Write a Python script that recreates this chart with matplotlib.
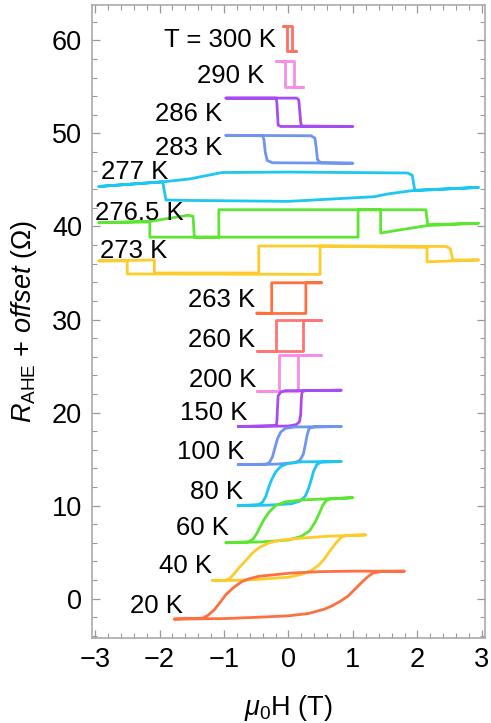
import matplotlib
matplotlib.use('Agg')
import matplotlib.pyplot as plt
import matplotlib.ticker as mticker

plt.rcParams.update({
    'font.family': 'Liberation Sans',
    'mathtext.fontset': 'custom',
    'mathtext.rm': 'Liberation Sans',
    'mathtext.it': 'Liberation Sans:italic',
    'mathtext.bf': 'Liberation Sans:bold',
})

# Hysteresis loops, field (T) and R_AHE + offset (Ohm), sweep up then sweep down
H_300 = [-0.08, -0.02, 0.05, 0.05, 0.11, 0.11, -0.02, -0.02, -0.08]
R_300 = [61.6, 61.6, 61.6, 58.9, 58.9, 58.9, 58.9, 61.6, 61.6]

H_290 = [-0.2, 0.08, 0.08, 0.23, 0.23, -0.05, -0.05, -0.2]
R_290 = [57.8, 57.8, 55.0, 55.0, 55.0, 55.0, 57.8, 57.8]

H_286 = [-0.97, 0.13, 0.16, 0.19, 0.2, 1.0, 1.0, -0.12, -0.16, -0.18, -0.19, -0.97]
R_286 = [53.8, 53.8, 53.6, 51.2, 50.8, 50.75, 50.75, 50.75, 50.9, 53.3, 53.8, 53.8]

H_283 = [-0.97, 0.35, 0.41, 0.43, 0.45, 0.5, 1.0, 1.0, -0.25, -0.33, -0.36, -0.38, -0.4, -0.97]
R_283 = [49.8, 49.75, 49.5, 48.5, 47.2, 46.85, 46.8, 46.8, 46.85, 47.1, 48.0, 49.3, 49.75, 49.8]

H_277 = [-2.94, -1.95, -1.54, -1.03, 0.0, 1.85, 1.92, 1.96, 2.95,
         2.95, 1.97, 1.54, 1.33, 0.0, -1.54, -1.9, -1.95, -2.94]
R_277 = [44.3, 44.8, 45.1, 45.8, 45.85, 45.75, 45.5, 43.85, 44.2,
         44.2, 43.9, 43.5, 43.2, 42.7, 42.8, 42.85, 44.8, 44.3]

H_2765 = [-2.94, -2.15, -1.56, -1.48, -1.46, -1.08, -1.08, 1.0, 2.13, 2.16, 2.95,
          2.95, 2.15, 1.43, 1.43, 1.08, 1.08, -2.15, -2.15, -2.94]
R_2765 = [40.4, 40.55, 41.2, 41.1, 38.85, 38.85, 41.8, 41.8, 41.8, 40.2, 40.35,
          40.35, 40.1, 39.3, 41.8, 41.8, 38.85, 38.85, 40.5, 40.4]

H_273 = [-2.94, -2.08, -2.08, -0.46, -0.46, 1.0, 2.45, 2.51, 2.55, 2.95,
         2.95, 2.15, 2.15, 1.0, 0.49, 0.49, -2.5, -2.5, -2.94]
R_273 = [36.3, 36.4, 35.0, 35.0, 37.9, 37.9, 37.85, 37.6, 36.4, 36.4,
         36.4, 36.2, 37.75, 37.85, 37.9, 34.85, 34.9, 36.3, 36.3]

H_263 = [-0.49, 0.27, 0.27, 0.51, 0.51, -0.26, -0.26, -0.49]
R_263 = [30.65, 30.65, 33.95, 33.95, 33.95, 33.95, 30.65, 30.7]

H_260 = [-0.49, 0.22, 0.22, 0.51, 0.51, -0.2, -0.2, -0.49]
R_260 = [26.6, 26.6, 29.9, 29.9, 29.9, 29.9, 26.6, 26.6]

H_200 = [-0.49, 0.15, 0.15, 0.51, 0.51, -0.15, -0.15, -0.49]
R_200 = [22.35, 22.35, 26.2, 26.2, 26.2, 26.2, 22.35, 22.35]

H_150 = [-0.78, 0.0, 0.12, 0.17, 0.19, 0.2, 0.21, 0.25, 0.82,
         0.82, -0.05, -0.12, -0.16, -0.17, -0.18, -0.19, -0.78]
R_150 = [18.5, 18.55, 18.7, 19.0, 19.8, 21.5, 22.2, 22.35, 22.4,
         22.4, 22.35, 22.2, 21.8, 20.5, 19.0, 18.6, 18.5]

H_100 = [-0.78, -0.2, 0.1, 0.18, 0.23, 0.26, 0.29, 0.32, 0.4, 0.82,
         0.82, 0.1, -0.05, -0.12, -0.17, -0.21, -0.25, -0.3, -0.35, -0.78]
R_100 = [14.4, 14.45, 14.6, 14.9, 15.5, 16.5, 17.6, 18.3, 18.45, 18.5,
         18.5, 18.45, 18.3, 17.9, 17.2, 16.2, 15.2, 14.6, 14.45, 14.4]

H_80 = [-0.78, -0.3, 0.05, 0.18, 0.26, 0.31, 0.35, 0.39, 0.44, 0.5, 0.82,
        0.82, 0.2, 0.0, -0.12, -0.2, -0.26, -0.31, -0.35, -0.4, -0.46, -0.78]
R_80 = [10.0, 10.05, 10.2, 10.5, 11.0, 11.8, 12.7, 13.7, 14.4, 14.65, 14.75,
        14.75, 14.7, 14.55, 14.2, 13.6, 12.8, 11.9, 11.0, 10.4, 10.1, 10.0]

H_60 = [-0.97, -0.4, 0.0, 0.2, 0.33, 0.42, 0.48, 0.53, 0.58, 0.64, 1.0,
        1.0, 0.2, -0.05, -0.2, -0.3, -0.38, -0.44, -0.5, -0.55, -0.62, -0.97]
R_60 = [6.0, 6.1, 6.3, 6.7, 7.3, 8.3, 9.2, 10.0, 10.5, 10.7, 10.85,
        10.85, 10.6, 10.4, 10.0, 9.3, 8.5, 7.7, 6.9, 6.4, 6.1, 6.0]

H_40 = [-1.18, -0.9, -0.5, 0.0, 0.2, 0.35, 0.47, 0.56, 0.65, 0.74, 0.82, 0.9, 1.2,
        1.2, 0.6, 0.2, -0.1, -0.3, -0.45, -0.56, -0.66, -0.77, -0.85, -0.92, -1.0, -1.18]
R_40 = [1.95, 1.95, 2.05, 2.3, 2.6, 3.0, 3.6, 4.3, 5.2, 6.0, 6.6, 6.8, 6.85,
        6.85, 6.7, 6.5, 6.3, 6.0, 5.5, 4.9, 4.1, 3.3, 2.6, 2.1, 1.95, 1.95]

H_20 = [-1.77, -1.0, -0.46, 0.0, 0.31, 0.55, 0.67, 0.8, 0.92, 1.03, 1.13, 1.23, 1.31, 1.43, 1.8,
        1.8, 1.0, 0.5, 0.05, -0.46, -0.6, -0.72, -0.85, -0.97, -1.06, -1.15, -1.25, -1.33, -1.77]
R_20 = [-2.2, -2.15, -2.0, -1.85, -1.6, -1.15, -0.8, -0.3, 0.25, 1.0, 1.7, 2.35, 2.75, 2.9, 2.95,
        2.95, 2.95, 2.9, 2.75, 2.4, 2.15, 1.85, 1.2, 0.43, -0.4, -1.2, -1.8, -2.1, -2.2]

labels = ['T = 300 K', '290 K', '286 K', '283 K', '277 K', '276.5 K', '273 K', '263 K',
          '260 K', '200 K', '150 K', '100 K', '80 K', '60 K', '40 K', '20 K']
fields = [H_300, H_290, H_286, H_283, H_277, H_2765, H_273, H_263,
          H_260, H_200, H_150, H_100, H_80, H_60, H_40, H_20]
resist = [R_300, R_290, R_286, R_283, R_277, R_2765, R_273, R_263,
          R_260, R_200, R_150, R_100, R_80, R_60, R_40, R_20]

PURPLE = '#a64cf0'
BLUE = '#6f95f0'
CYAN = '#1ec6f2'
GREEN = '#5ce632'
YELLOW = '#fecb2c'
ORANGE = '#ff7040'
colors = ['#ff6f63', '#f98ce6', PURPLE, BLUE, CYAN, GREEN, YELLOW, ORANGE,
          '#ff7474', '#f98ce6', PURPLE, BLUE, CYAN, GREEN, YELLOW, ORANGE]

# label anchor (field, R) and alignment
label_pos = [(-0.2, 60.0, 'right'), (-0.38, 56.2, 'right'), (-1.03, 52.1, 'right'),
             (-1.03, 48.4, 'right'), (-2.9, 45.9, 'left'), (-3.0, 41.5, 'left'),
             (-2.93, 37.4, 'left'), (-0.51, 32.1, 'right'), (-0.51, 27.8, 'right'),
             (-0.5, 23.5, 'right'), (-0.64, 20.0, 'right'), (-0.69, 15.8, 'right'),
             (-0.71, 11.5, 'right'), (-0.92, 7.6, 'right'), (-1.18, 3.5, 'right'),
             (-1.64, -0.8, 'right')]

fig = plt.figure(figsize=(4.91, 7.23), dpi=100)
ax = fig.add_axes([0.187, 0.118, 0.801, 0.875])

for h, r, c in zip(fields, resist, colors):
    ax.plot(h, r, color=c, lw=2.0, solid_joinstyle='round', solid_capstyle='round')

for txt, (x, y, ha) in zip(labels, label_pos):
    ax.text(x, y, txt, ha=ha, va='center', fontsize=18.5, color='black')

ax.set_xlim(-3.05, 3.05)
ax.set_ylim(-4.2, 63.8)
ax.xaxis.set_major_locator(mticker.MultipleLocator(1))
ax.xaxis.set_minor_locator(mticker.MultipleLocator(0.2))
ax.yaxis.set_major_locator(mticker.MultipleLocator(10))
ax.yaxis.set_minor_locator(mticker.MultipleLocator(2))
ax.xaxis.set_major_formatter(mticker.FuncFormatter(lambda v, _: f'{v:.0f}'.replace('-', '\u2212')))

ax.tick_params(which='both', direction='in', top=True, right=True, color='#999999',
               labelsize=19.5, labelcolor='black')
ax.tick_params(which='major', length=6, width=0.9, pad=7)
ax.tick_params(which='minor', length=3.5, width=0.8)
for s in ax.spines.values():
    s.set_color('#aaaaaa')
    s.set_linewidth(1.2)

ax.set_xlabel(r'$\mu_0$H (T)', fontsize=19.5, labelpad=14)
ax.set_ylabel(r'$R_{\mathrm{AHE}}$ + $\mathit{offset}$ (Ω)', fontsize=19.5, labelpad=9)

fig.savefig('out.png', dpi=100, facecolor='white')
plt.close(fig)
